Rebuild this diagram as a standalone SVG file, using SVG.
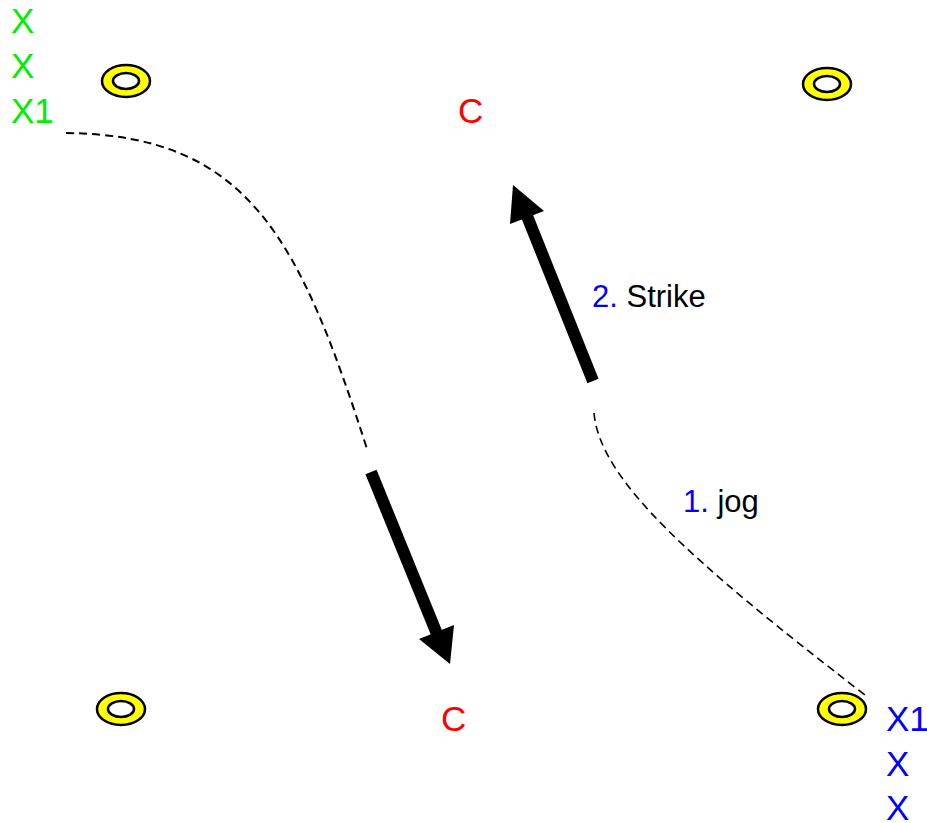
<svg xmlns="http://www.w3.org/2000/svg" width="927" height="823" viewBox="0 0 927 823">
  <style>
    .lbl { font-family: "Liberation Sans", Arial, sans-serif; }
    .big { font-size: 35px; }
    .mid { font-size: 31px; }
    .green { fill: #00ee00; }
    .blue { fill: #0000ff; }
    .red { fill: #ff0000; }
    .black { fill: #000000; }
    .cone-outer { fill: #ffff00; stroke: #000; stroke-width: 2.5; }
    .cone-inner { fill: #ffffff; stroke: #000; stroke-width: 2.5; }
    .dash { fill: none; stroke: #000; stroke-dasharray: 8 5; }
    .shaft { stroke: #000; stroke-width: 12; fill: none; }
  </style>
  <defs>
    <g id="cone">
      <ellipse class="cone-outer" cx="0" cy="0" rx="24" ry="16"/>
      <ellipse class="cone-inner" cx="0" cy="0" rx="13" ry="8"/>
    </g>
  </defs>
  <rect width="927" height="823" fill="#ffffff"/>

  <!-- cones -->
  <g id="cone-tl"><use href="#cone" x="126" y="81"/></g>
  <g id="cone-tr"><use href="#cone" x="827" y="84"/></g>
  <g id="cone-bl"><use href="#cone" x="121" y="709"/></g>
  <g id="cone-br"><use href="#cone" x="842" y="709"/></g>

  <!-- player lines -->
  <g id="team-green" class="lbl big green">
    <text x="11" y="33">X</text>
    <text x="11" y="78">X</text>
    <text x="11" y="123">X1</text>
  </g>
  <g id="team-blue" class="lbl big blue">
    <text x="886" y="731">X1</text>
    <text x="886" y="776">X</text>
    <text x="886" y="820">X</text>
  </g>

  <!-- coaches -->
  <g id="coach-top"><text class="lbl big red" x="458" y="123">C</text></g>
  <g id="coach-bottom"><text class="lbl big red" x="441" y="731">C</text></g>

  <!-- labels -->
  <g id="label-strike" class="lbl mid">
    <text x="592" y="307"><tspan class="blue">2.</tspan><tspan class="black"> Strike</tspan></text>
  </g>
  <g id="label-jog" class="lbl mid">
    <text x="683" y="512"><tspan class="blue">1.</tspan><tspan class="black"> jog</tspan></text>
  </g>

  <!-- connectors -->
  <g id="connectors">
    <path class="dash" stroke-width="2" d="M66,133 C250,135 300,240 368,452"/>
    <path class="dash" stroke-width="1.6" d="M594,413 C600,480 690,560 865,695"/>
    <line class="shaft" x1="593" y1="381" x2="527" y2="216"/>
    <polygon points="513,185 510,224 544,211" fill="#000"/>
    <line class="shaft" x1="371" y1="472" x2="437" y2="634"/>
    <polygon points="450,664 419,639 454,625" fill="#000"/>
  </g>
</svg>
